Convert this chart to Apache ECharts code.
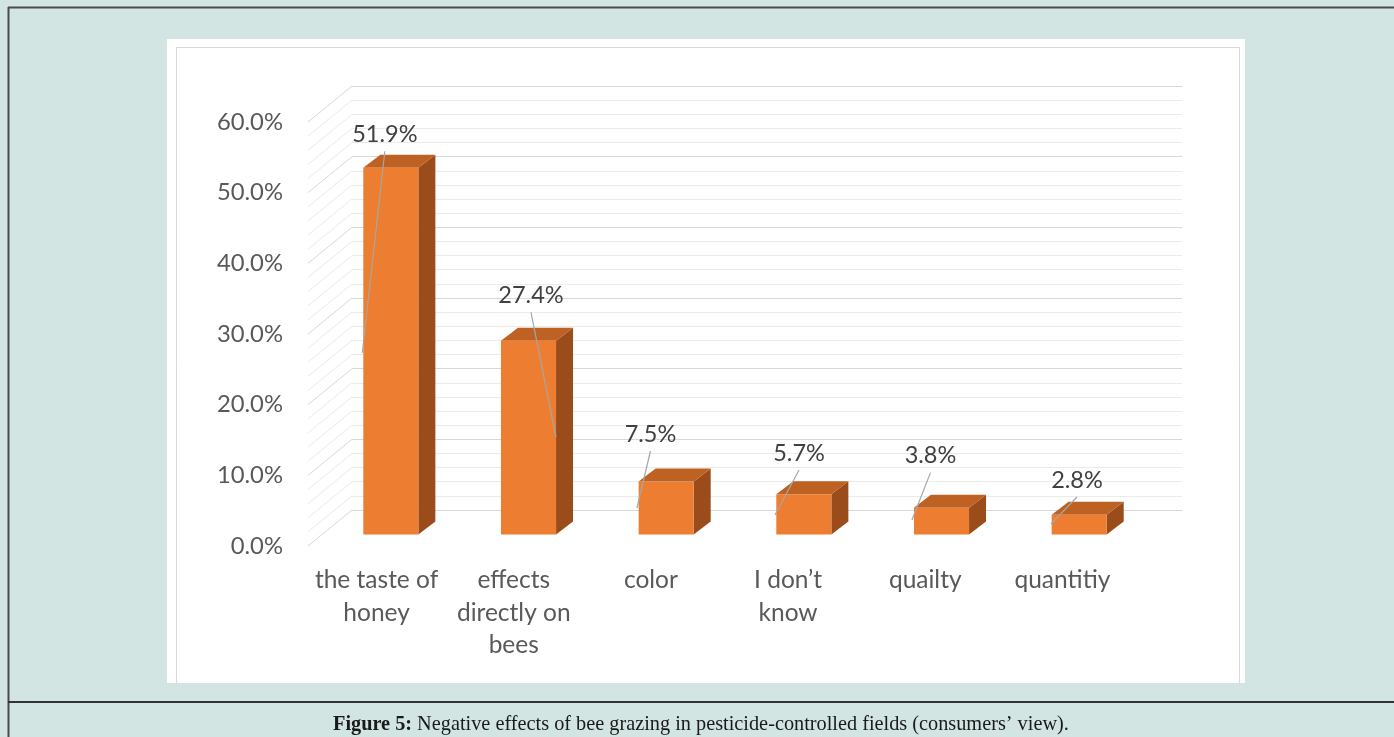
<!DOCTYPE html>
<html>
<head>
<meta charset="utf-8">
<title>Negative effects of bee grazing in pesticide-controlled fields</title>
<script src="https://cdn.jsdelivr.net/npm/echarts@6/dist/echarts.min.js"></script>
<style>
  html, body { margin: 0; padding: 0; background: #d3e5e3; }
  #chart { width: 1394px; height: 737px; }
</style>
</head>
<body>
<div id="chart"></div>
<script>
// Consumers' answers (share of respondents, %)
const categories = ['the taste of\nhoney', 'effects\ndirectly on\nbees', 'color', 'I don\u2019t\nknow', 'quailty', 'quantitiy'];
const shares = [51.9, 27.4, 7.5, 5.7, 3.8, 2.8];

// Value axis
const axisMin = 0;
const axisMax = 60;
const axisStep = 10;
const minorStep = 2;

// Manually placed data labels: offset of the label centre from the bar's top-front centre,
// and end of each leader line relative to the bar's top-front-left corner.
const labelOffset = [[-6, -33.5], [2.5, -45.5], [-15.7, -47.5], [-4.8, -41.2], [-11, -52], [-2.2, -34.7]];
const leaderEnd = [[-1, 185], [55, 96], [-1.7, 26.5], [-1.3, 20.8], [-2, 12.4], [-0.7, 9.3]];

// 3D look
const depth = [17, -13];          // bar depth projection
const wallDepth = [-44, 36];      // back wall -> front plane
const colFront = '#ed7d31';
const colTop = '#bd6223';
const colSide = '#9a4d1b';

const sideTicks = [];
for (let v = axisMin; v <= axisMax; v += minorStep) sideTicks.push(v);

const chart = echarts.init(document.getElementById('chart'), null, { renderer: 'canvas' });

const labelFont = 'Lato, "Open Sans", sans-serif';

chart.setOption({
  backgroundColor: '#d3e5e3',
  animation: false,
  title: {
    text: '{b|Figure 5:} Negative effects of bee grazing in pesticide-controlled fields (consumers\u2019 view).',
    left: 333,
    top: 715,
    padding: 0,
    textStyle: {
      fontFamily: '"Liberation Serif", serif',
      fontSize: 20.3,
      fontWeight: 'normal',
      color: '#1a1a1a',
      rich: {
        b: { fontFamily: '"Liberation Serif", serif', fontSize: 20.3, fontWeight: 'bold', color: '#1a1a1a' }
      }
    }
  },
  graphic: [
    // outer frame
    { type: 'line', z: -10, shape: { x1: 8, y1: 7.5, x2: 1394, y2: 7.5 }, style: { stroke: '#4a4a4a', lineWidth: 2 } },
    { type: 'line', z: -10, shape: { x1: 8.5, y1: 7, x2: 8.5, y2: 737 }, style: { stroke: '#4a4a4a', lineWidth: 2 } },
    { type: 'line', z: -10, shape: { x1: 8, y1: 702, x2: 1394, y2: 702 }, style: { stroke: '#333333', lineWidth: 2 } },
    // chart panel
    { type: 'rect', z: -10, shape: { x: 167, y: 39, width: 1078, height: 644 }, style: { fill: '#ffffff' } },
    { type: 'polyline', z: -9, shape: { points: [[176.5, 683], [176.5, 47.5], [1239.5, 47.5], [1239.5, 683]] }, style: { stroke: '#d9d9d9', lineWidth: 1, fill: null } }
  ],
  grid: [
    { left: 352, top: 86, width: 830, height: 424 },      // back wall
    { left: 322, top: 110.5, width: 826, height: 424 },   // bar front faces
    { left: 308, top: 122, width: 823, height: 424 }      // front plane (axis labels)
  ],
  xAxis: [
    { gridIndex: 0, type: 'value', min: 0, max: 1, show: false },
    { gridIndex: 1, type: 'category', data: categories, show: false },
    {
      gridIndex: 2, type: 'category', data: categories,
      axisLine: { show: false }, axisTick: { show: false },
      axisLabel: { margin: 18, color: '#595959', fontFamily: labelFont, fontSize: 24.5, lineHeight: 32.5, interval: 0 }
    }
  ],
  yAxis: [
    {
      gridIndex: 0, type: 'value', min: axisMin, max: axisMax, interval: axisStep,
      axisLine: { show: false }, axisTick: { show: false }, axisLabel: { show: false },
      splitLine: { show: true, lineStyle: { color: '#d9d9d9', width: 1 } },
      minorTick: { show: false, splitNumber: axisStep / minorStep },
      minorSplitLine: { show: true, lineStyle: { color: '#ebebeb', width: 1 } }
    },
    { gridIndex: 1, type: 'value', min: axisMin, max: axisMax, interval: axisStep, show: false, splitLine: { show: false } },
    {
      gridIndex: 2, type: 'value', min: axisMin, max: axisMax, interval: axisStep,
      axisLine: { show: false }, axisTick: { show: false }, splitLine: { show: false },
      axisLabel: {
        margin: 25, color: '#595959', fontFamily: labelFont, fontSize: 23.8,
        formatter: v => v.toFixed(1) + '%'
      }
    }
  ],
  series: [
    {
      // side wall grid lines, running from the back wall to the front plane
      type: 'custom',
      xAxisIndex: 0, yAxisIndex: 0,
      silent: true,
      z: 1,
      data: sideTicks.map(v => [0, v]),
      renderItem: (params, api) => {
        const v = api.value(1);
        const p = api.coord([0, v]);
        const major = Math.abs(v % axisStep) < 1e-9;
        return {
          type: 'line',
          shape: { x1: p[0], y1: p[1], x2: p[0] + wallDepth[0], y2: p[1] + wallDepth[1] },
          style: { stroke: major ? '#d9d9d9' : '#ebebeb', lineWidth: 1 }
        };
      }
    },
    {
      // 3D bars with data labels and leader lines
      type: 'custom',
      xAxisIndex: 1, yAxisIndex: 1,
      z: 5,
      data: shares.map((v, i) => [i, v]),
      encode: { x: 0, y: 1 },
      renderItem: (params, api) => {
        const i = params.dataIndex;
        const cat = api.value(0);
        const val = api.value(1);
        const top = api.coord([cat, val]);
        const base = api.coord([cat, 0]);
        const w = api.size([1, 0])[0] * 0.4;
        const xl = top[0] - w / 2;
        const xr = top[0] + w / 2;
        const yt = top[1];
        const yb = base[1];
        const [dx, dy] = depth;
        const lx = top[0] + labelOffset[i][0];
        const ly = yt + labelOffset[i][1];
        const ex = xl + leaderEnd[i][0];
        const ey = yt + leaderEnd[i][1];
        return {
          type: 'group',
          children: [
            { type: 'polygon', shape: { points: [[xr, yt], [xr + dx, yt + dy], [xr + dx, yb + dy], [xr, yb]] }, style: { fill: colSide } },
            { type: 'polygon', shape: { points: [[xl, yt], [xl + dx, yt + dy], [xr + dx, yt + dy], [xr, yt]] }, style: { fill: colTop } },
            { type: 'rect', shape: { x: xl, y: yt, width: w, height: yb - yt }, style: { fill: colFront } },
            { type: 'line', z2: 10, shape: { x1: lx, y1: ly + 17, x2: ex, y2: ey }, style: { stroke: '#a6a6a6', lineWidth: 1.2 } },
            {
              type: 'text', z2: 11,
              style: {
                text: val.toFixed(1) + '%', x: lx, y: ly,
                align: 'center', verticalAlign: 'middle',
                fontFamily: labelFont, fontSize: 23.5, fill: '#404040'
              }
            }
          ]
        };
      }
    }
  ]
});
</script>
</body>
</html>
